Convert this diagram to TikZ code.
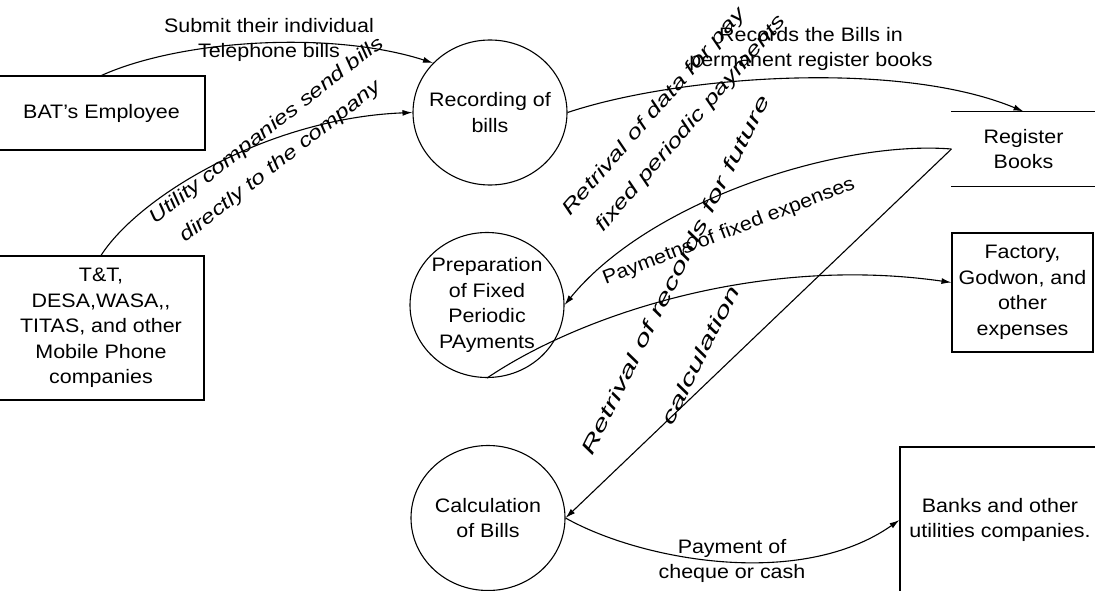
\documentclass[tikz,border=0pt]{standalone}
\usepackage{fontspec}
\setmainfont{Liberation Sans}[FakeStretch=1.1]
\usepackage{graphicx}
\usetikzlibrary{arrows.meta,shapes.geometric}

\begin{document}
\begin{tikzpicture}[x=1pt,y=-1pt,
  font=\fontsize{19.5}{25.5}\selectfont,
  line width=1.1pt,
  flow/.style={-{Latex[length=10pt,width=6pt]}},
  proc/.style={draw,ellipse,minimum width=154pt,minimum height=145pt,inner sep=0pt},
  ext/.style={draw,rectangle,inner sep=0pt,align=center},
  txt/.style={align=center,inner sep=0pt},
  slant/.style={inner sep=0pt,anchor=base west,font=\fontsize{19.5}{25.5}\selectfont\itshape},
  tilted/.style={inner sep=0pt,anchor=base west},
]
\useasboundingbox (0,0) rectangle (1095,591);
\clip (0,0) rectangle (1095,591);
\fill[white] (0,0) rectangle (1095,591);

% external entities
\node[ext,minimum width=207pt,minimum height=74pt] (bat) at (101.5,113) {BAT's Employee};
\node[ext,minimum width=206pt,minimum height=144pt] (tt) at (101,328)
  {T\&T,\\DESA,WASA,{},\\TITAS, and other\\Mobile Phone\\companies};
\node[ext,minimum width=141pt,minimum height=119pt] (fac) at (1022.5,292.5)
  {Factory,\\Godwon, and\\other\\expenses};
\node[ext,minimum width=200pt,minimum height=146pt] (bank) at (1000,520)
  {Banks and other\\utilities companies.};

% data store (open on the sides)
\node[txt,minimum width=143pt,minimum height=74pt] (reg) at (1023.5,149) {Register\\Books};
\draw (reg.north west) -- (reg.north east)
      (reg.south west) -- (reg.south east);

% processes
\node[proc,label={[txt]center:{Recording of\\bills}}] (rec) at (490,112.5) {};
\node[proc,label={[txt]center:{Preparation\\of Fixed\\Periodic\\PAyments}}] (prep) at (487,305) {};
\node[proc,label={[txt]center:{Calculation\\of Bills}}] (calc) at (488,518) {};

% data flows
\draw[flow] (bat.north) .. controls (180,40) and (330,30) .. (rec.139);
\draw[flow] (tt.north) .. controls (140,195) and (270,118) .. (rec.west);
\draw[flow] (rec.east) .. controls (680,75) and (900,60) .. (reg.north);
\draw[flow] (reg.west) .. controls (840,140) and (650,200) .. (prep.east);
\draw[flow] (reg.west) -- (calc.east);
\draw[flow] (prep.south) .. controls (580,315) and (760,255) .. ([yshift=10pt]fac.west);
\draw[flow] (calc.east) .. controls (640,560) and (800,590) .. (bank.west);

% flow labels
\node[txt] (lSubmit) at (269,40) {Submit their individual\\Telephone bills};
\node[txt] (lRecords) at (811,49) {Records the Bills in\\permanent register books};
\node[txt] (lPay) at (732,561) {Payment of\\cheque or cash};
\node[tilted,rotate=21] (lFixed) at (605,285) {Paymetns of fixed expenses};
\node[slant,rotate=38] (lUtilA) at (155,225) {\scalebox{1.13}[1]{Utility companies send bills}};
\node[slant,rotate=38] (lUtilB) at (185,243) {\scalebox{1.13}[1]{directly to the company}};
\node[slant,rotate=49] (lDataA) at (570,217) {\scalebox{1.24}[1]{Retrival of data for pay}};
\node[slant,rotate=49] (lDataB) at (603,233) {\scalebox{1.24}[1]{fixed periodic payments}};
\node[slant,rotate=63.5] (lRecA) at (592,457) {\scalebox{1.5}[1]{Retrival of records for future}};
\node[slant,rotate=63.5] (lRecB) at (672,427) {\scalebox{1.5}[1]{calculation}};
\end{tikzpicture}
\end{document}
